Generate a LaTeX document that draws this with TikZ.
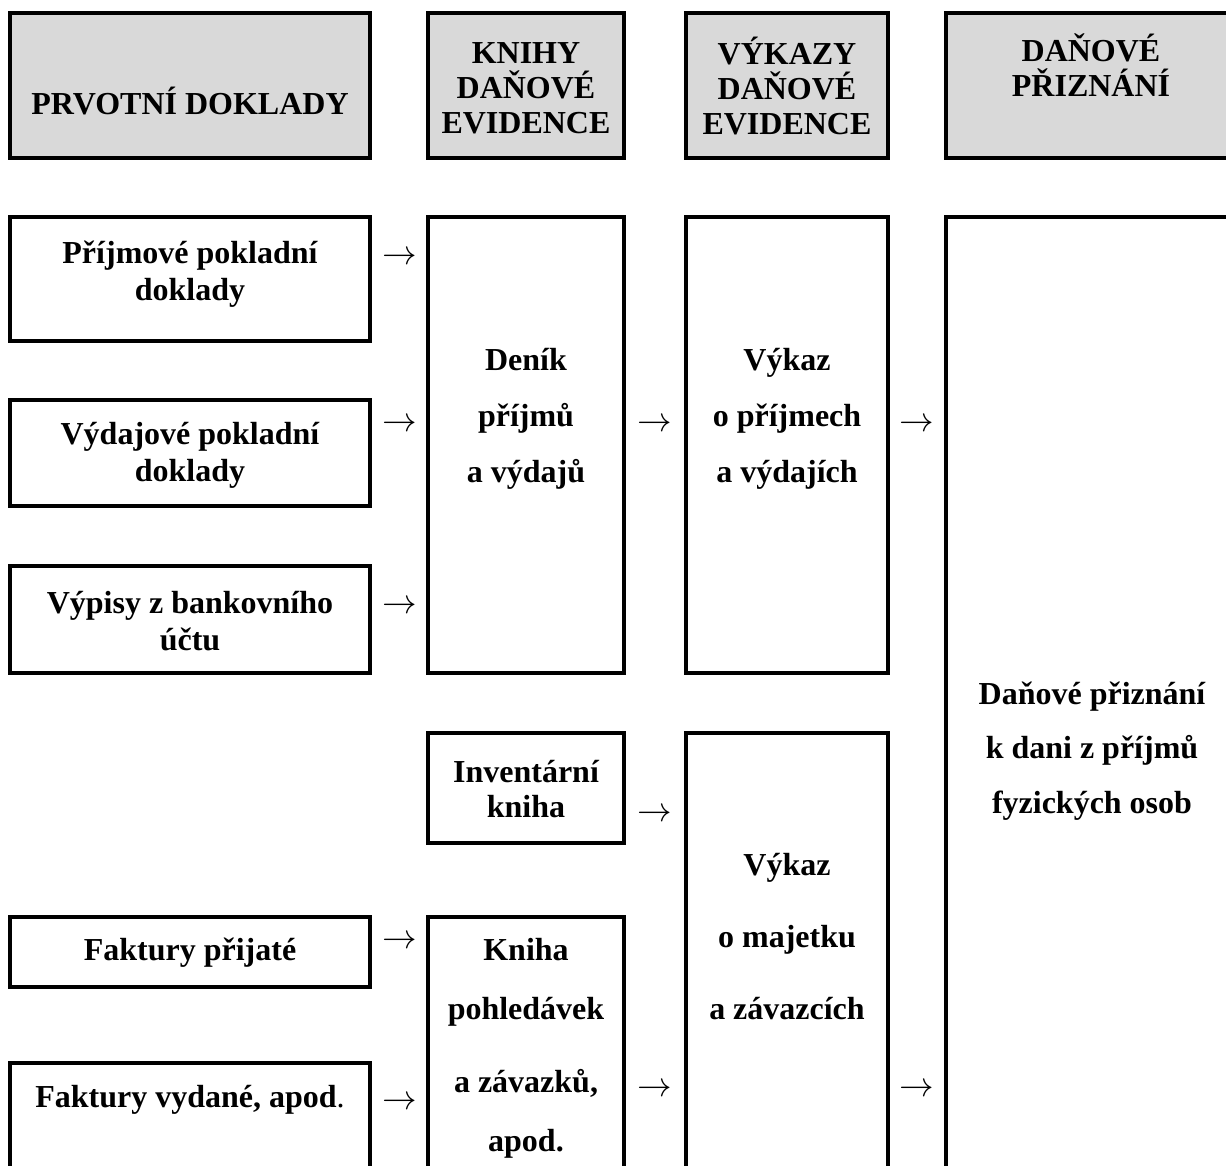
\documentclass[tikz,border=0pt]{standalone}
\usepackage{fontspec}
\setmainfont{Liberation Serif}
\usepackage{tikz}
\definecolor{headgray}{RGB}{217,217,217}
\tikzset{
	MyPix/.style={x=0.5pt,y=-0.5pt},
	box/.style={draw=black,line width=2pt},
	headbox/.style={box,fill=headgray},
	txt/.style={font=\bfseries\fontsize{16}{18.5}\selectfont,align=center,inner sep=0pt},
	arr/.style={font=\fontsize{16}{18.5}\selectfont,inner sep=0pt}
		}

\begin{document}
\begin{tikzpicture}[MyPix]
	\useasboundingbox (0,0) rectangle (1226,1166);
	\clip (0,0) rectangle (1226,1166);

	% header row
	\draw[headbox] (10,13) rectangle (370,158);
	\draw[headbox] (428,13) rectangle (624,158);
	\draw[headbox] (686,13) rectangle (888,158);
	\draw[headbox] (946,13) rectangle (1240,158);
	\node[txt] (hprv) at (190,101) {PRVOTNÍ DOKLADY};
	\node[txt,font=\bfseries\fontsize{16}{17.5}\selectfont] (hkn) at (526,88) {KNIHY\\DAŇOVÉ\\EVIDENCE};
	\node[txt,font=\bfseries\fontsize{16}{17.5}\selectfont] (hvyk) at (787,86) {VÝKAZY\\DAŇOVÉ\\EVIDENCE};
	\node[txt,font=\bfseries\fontsize{16}{17.5}\selectfont] (hdp) at (1091,65) {DAŇOVÉ\\PŘIZNÁNÍ};

	% first column: primary documents
	\draw[box] (10,217) rectangle (370,341);
	\draw[box] (10,400) rectangle (370,506);
	\draw[box] (10,566) rectangle (370,673);
	\draw[box] (10,917) rectangle (370,987);
	\draw[box] (10,1063) rectangle (370,1200);
	\node[txt] (prij) at (190,274) {Příjmové pokladní\\doklady};
	\node[txt] (vyd) at (190,455) {Výdajové pokladní\\doklady};
	\node[txt] (vyp) at (190,621) {Výpisy z bankovního\\účtu};
	\node[txt] (fprij) at (190,953) {Faktury přijaté};
	\node[txt] (fvyd) at (190,1100) {Faktury vydané, apod{\mdseries .}};

	% second column: books
	\draw[box] (428,217) rectangle (624,673);
	\draw[box] (428,733) rectangle (624,843);
	\draw[box] (428,917) rectangle (624,1200);
	\node[txt,font=\bfseries\fontsize{16}{28}\selectfont] (denik) at (526,419) {Deník\\příjmů\\a výdajů};
	\node[txt,font=\bfseries\fontsize{16}{17.5}\selectfont] (inv) at (526,789) {Inventární\\kniha};
	\node[txt] (kniha) at (526,1048) {Kniha\\[11pt]pohledávek\\[18pt]a závazků,\\[11pt]apod.};

	% third column: statements
	\draw[box] (686,217) rectangle (888,673);
	\draw[box] (686,733) rectangle (888,1200);
	\node[txt,font=\bfseries\fontsize{16}{28}\selectfont] (vpv) at (787,419) {Výkaz\\o příjmech\\a výdajích};
	\node[txt,font=\bfseries\fontsize{16}{36}\selectfont] (vmz) at (787,937) {Výkaz\\o majetku\\a závazcích};

	% fourth column: tax return
	\draw[box] (946,217) rectangle (1240,1200);
	\node[txt,font=\bfseries\fontsize{16}{27.3}\selectfont] (dpfo) at (1092,751) {Daňové přiznání\\k dani z příjmů\\fyzických osob};

	% arrows between the columns
	\node[arr] (a1) at (400,258) {$\rightarrow$};
	\node[arr] (a2) at (400,425) {$\rightarrow$};
	\node[arr] (a3) at (400,607) {$\rightarrow$};
	\node[arr] (a4) at (400,942) {$\rightarrow$};
	\node[arr] (a5) at (400,1103) {$\rightarrow$};
	\node[arr] (b1) at (655,425) {$\rightarrow$};
	\node[arr] (b2) at (655,815) {$\rightarrow$};
	\node[arr] (b3) at (655,1090) {$\rightarrow$};
	\node[arr] (c1) at (917,425) {$\rightarrow$};
	\node[arr] (c2) at (917,1090) {$\rightarrow$};
\end{tikzpicture}
\end{document}
